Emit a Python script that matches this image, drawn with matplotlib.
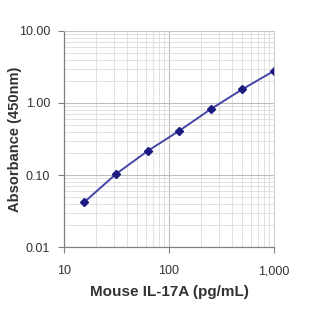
import numpy as np
import matplotlib.pyplot as plt
from matplotlib.ticker import FixedLocator, FixedFormatter, LogLocator, NullFormatter

plt.rcParams['font.family'] = ['Liberation Sans', 'DejaVu Sans']

# concentração (pg/mL) e absorbância lida
conc = [15.6, 31.25, 62.5, 125, 250, 500, 1000]
absorb = [0.042, 0.103, 0.215, 0.41, 0.82, 1.55, 2.78]

x_ticks = [10, 100, 1000]
x_labels = ['10', '100', '1,000']
y_ticks = [0.01, 0.1, 1, 10]
y_labels = ['0.01', '0.10', '1.00', '10.00']

fig = plt.figure(figsize=(3.12, 3.12), dpi=100)
ax = fig.add_axes([0.205, 0.208, 0.673, 0.693])

ax.plot(conc, absorb, color='#4545a8', linewidth=1.4, marker='D',
        markersize=4.2, markerfacecolor='#1a1a80', markeredgecolor='#1a1a80')

ax.set_xscale('log')
ax.set_yscale('log')
ax.set_xlim(10, 1000)
ax.set_ylim(0.01, 10)

ax.xaxis.set_major_locator(FixedLocator(x_ticks))
ax.xaxis.set_major_formatter(FixedFormatter(x_labels))
ax.yaxis.set_major_locator(FixedLocator(y_ticks))
ax.yaxis.set_major_formatter(FixedFormatter(y_labels))
ax.xaxis.set_minor_locator(LogLocator(base=10, subs=np.arange(2, 10)))
ax.yaxis.set_minor_locator(LogLocator(base=10, subs=np.arange(2, 10)))
ax.xaxis.set_minor_formatter(NullFormatter())
ax.yaxis.set_minor_formatter(NullFormatter())

ax.grid(True, which='major', color='#bdbdbd', linewidth=0.8)
ax.grid(True, which='minor', color='#dcdcdc', linewidth=0.6)

ax.tick_params(which='minor', length=0)
ax.tick_params(which='major', length=4, width=0.8, color='#808080',
               labelsize=9, labelcolor='#333333')
ax.tick_params(axis='x', pad=9)
ax.tick_params(axis='y', pad=6)

for s in ['top', 'right']:
    ax.spines[s].set_color('#c8c8c8')
    ax.spines[s].set_linewidth(0.6)
for s in ['left', 'bottom']:
    ax.spines[s].set_color('#808080')
    ax.spines[s].set_linewidth(0.9)

ax.set_xlabel('Mouse IL-17A (pg/mL)', fontsize=11, fontweight='bold',
              color='#333333', labelpad=6)
ax.set_ylabel('Absorbance (450nm)', fontsize=10.5, fontweight='bold',
              color='#333333')
ax.yaxis.set_label_coords(-0.2, 0.5)

fig.savefig('out.png', dpi=100)
